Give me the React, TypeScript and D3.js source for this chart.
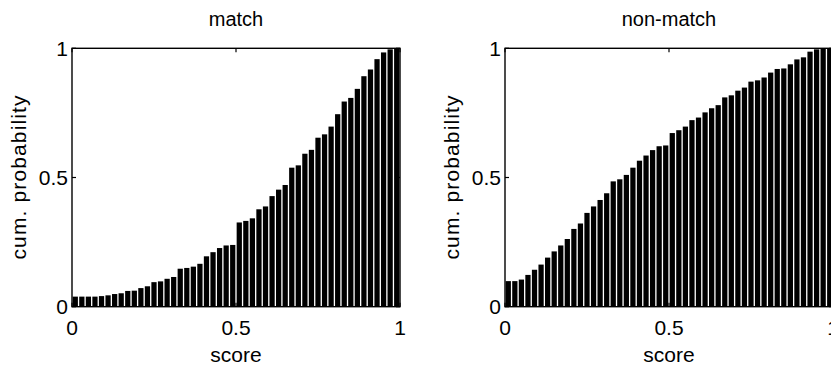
import React from "react";
import * as d3 from "d3";

const matchValues = [
  0.039, 0.039, 0.039, 0.039, 0.041, 0.044, 0.049, 0.052, 0.061, 0.062,
  0.072, 0.079, 0.095, 0.098, 0.108, 0.115, 0.147, 0.150, 0.155, 0.166,
  0.195, 0.211, 0.227, 0.237, 0.239, 0.326, 0.332, 0.342, 0.377, 0.388,
  0.428, 0.453, 0.471, 0.538, 0.547, 0.592, 0.607, 0.654, 0.667, 0.697,
  0.745, 0.794, 0.808, 0.843, 0.892, 0.918, 0.958, 0.984, 0.996, 1.0,
];

const nonMatchValues = [
  0.099, 0.099, 0.105, 0.123, 0.143, 0.163, 0.190, 0.214, 0.237, 0.262,
  0.301, 0.322, 0.363, 0.388, 0.413, 0.439, 0.485, 0.493, 0.510, 0.538,
  0.565, 0.585, 0.606, 0.621, 0.624, 0.672, 0.683, 0.697, 0.722, 0.732,
  0.752, 0.768, 0.780, 0.810, 0.818, 0.836, 0.848, 0.871, 0.876, 0.887,
  0.906, 0.920, 0.922, 0.938, 0.957, 0.965, 0.987, 0.996, 1.0, 1.0,
];

const panelTitles = ["match", "non-match"];
const xTicks = [0, 0.5, 1];
const yTicks = [0, 0.5, 1];
const xLabel = "score";
const yLabel = "cum. probability";

const FONT = "'Liberation Sans', Arial, Helvetica, sans-serif";

function Panel({ values, title, left, right }: { values: number[]; title: string; left: number; right: number }) {
  const top = 48.3;
  const bottom = 306.7;
  const x = d3.scaleLinear().domain([0, 1]).range([left, right]);
  const y = d3.scaleLinear().domain([0, 1]).range([bottom, top]);
  const band = d3
    .scaleBand<number>()
    .domain(values.map((_, i) => i))
    .range([left, right])
    .paddingInner(0.2)
    .paddingOuter(0.1);
  const tickLen = 4;
  const mid = (left + right) / 2;
  return (
    <g>
      <text x={mid} y={26} textAnchor="middle" fontSize={20} fontFamily={FONT}>
        {title}
      </text>
      {values.map((v, i) => (
        <rect
          key={i}
          x={band(i)!}
          y={y(v)}
          width={band.bandwidth()}
          height={bottom - y(v)}
          fill="#000"
        />
      ))}
      <rect x={left} y={top} width={right - left} height={bottom - top} fill="none" stroke="#000" strokeWidth={1.4} />
      {xTicks.map((t) => (
        <g key={"xt" + t}>
          <line x1={x(t)} x2={x(t)} y1={bottom} y2={bottom - tickLen} stroke="#000" strokeWidth={1.2} />
          <line x1={x(t)} x2={x(t)} y1={top} y2={top + tickLen} stroke="#000" strokeWidth={1.2} />
          <text x={x(t)} y={335} textAnchor="middle" fontSize={21} fontFamily={FONT}>
            {String(t)}
          </text>
        </g>
      ))}
      {yTicks.map((t) => (
        <g key={"yt" + t}>
          <line x1={left} x2={left + tickLen} y1={y(t)} y2={y(t)} stroke="#000" strokeWidth={1.2} />
          <line x1={right} x2={right - tickLen} y1={y(t)} y2={y(t)} stroke="#000" strokeWidth={1.2} />
          <text x={left - 4} y={y(t)} dy="0.36em" textAnchor="end" fontSize={21} fontFamily={FONT}>
            {String(t)}
          </text>
        </g>
      ))}
      <text x={mid} y={362} textAnchor="middle" fontSize={21} fontFamily={FONT}>
        {xLabel}
      </text>
      <text
        transform={`translate(${left - 46},${(top + bottom) / 2}) rotate(-90)`}
        textAnchor="middle"
        fontSize={21}
        fontFamily={FONT}
        textLength={164}
        lengthAdjust="spacing"
      >
        {yLabel}
      </text>
    </g>
  );
}

export default function App() {
  return (
    <div style={{ position: "absolute", left: 0, top: 0 }}>
      <svg width={831} height={374} style={{ display: "block", background: "#fff" }}>
        <Panel values={matchValues} title={panelTitles[0]} left={72} right={400} />
        <Panel values={nonMatchValues} title={panelTitles[1]} left={505} right={833} />
      </svg>
    </div>
  );
}
